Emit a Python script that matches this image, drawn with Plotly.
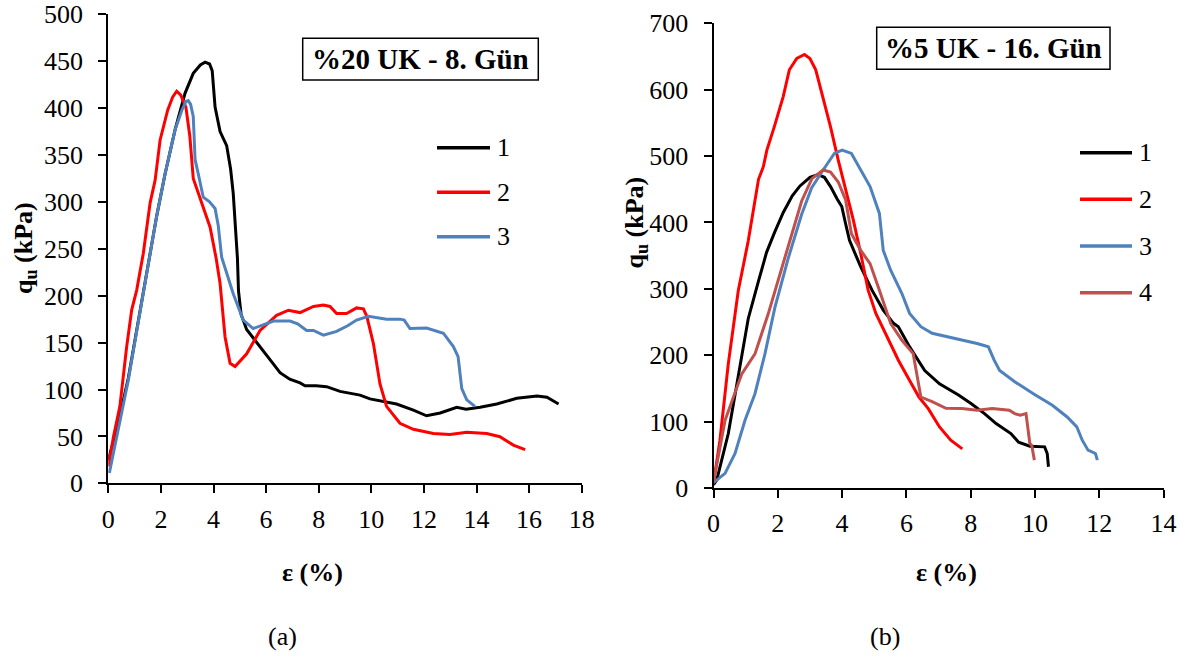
import plotly.graph_objects as go

W, H = 1193, 660
FONT = "Liberation Serif, Times New Roman, serif"

# ---------------- Panel (a): %20 UK - 8. Gün ----------------
a_x1 = [0, 0.3, 0.76, 1.14, 1.52, 1.84, 2.16, 2.54, 2.92, 3.23, 3.5, 3.68, 3.85, 3.95, 4.06, 4.25,
        4.5, 4.65, 4.75, 4.85, 4.91, 4.95, 5.05, 5.26, 5.6, 5.89, 6.2, 6.53, 6.9, 7.29, 7.48, 7.9,
        8.3, 8.81, 9.57, 9.95, 10.5, 10.96, 11.6, 12.1, 12.62, 13.25, 13.6, 14.14, 14.77, 15.53,
        16.3, 16.68, 17.12]
a_y1 = [25, 55, 112, 172, 235, 285, 330, 377, 416, 437, 446, 449, 447, 440, 401, 375,
        360, 335, 309, 270, 240, 205, 180, 164, 152, 142, 130, 118, 111, 107, 104, 104,
        103, 98, 94, 90, 87, 84.5, 78, 72, 75, 81, 79, 81, 84.5, 90.6,
        93, 91.7, 84.5]

a_x2 = [0, 0.2, 0.44, 0.7, 0.89, 1.08, 1.33, 1.59, 1.78, 1.97, 2.26, 2.45, 2.6, 2.75, 2.95, 3.1,
        3.23, 3.55, 3.87, 4.1, 4.25, 4.44, 4.63, 4.82, 5.26, 5.77, 6.4, 6.85, 7.29, 7.8, 8.18,
        8.43, 8.68, 9.06, 9.44, 9.7, 9.83, 10.08, 10.33, 10.58, 11.09, 11.6, 12.36, 12.99, 13.63,
        14.39, 14.89, 15.4, 15.85]
a_y2 = [18, 50, 82, 146, 185, 206, 245, 299, 323, 366, 398, 412, 418, 414, 401, 370,
        325, 298, 273, 240, 213, 156, 128, 124.5, 138, 163, 179, 184.5, 182, 188.5, 190,
        188.5, 181, 181, 187, 186, 178, 149, 106, 82, 64, 57.6, 53, 52, 54.5,
        53, 49.7, 40.8, 36]

a_x3 = [0.04, 0.32, 0.76, 1.14, 1.52, 1.84, 2.16, 2.54, 2.8, 2.95, 3.04, 3.13, 3.23, 3.3, 3.42,
        3.61, 3.85, 4.06, 4.18, 4.31, 4.75, 5.13, 5.51, 5.8, 6.28, 6.91, 7.2, 7.54, 7.8, 8.18,
        8.68, 9.1, 9.44, 9.89, 10.58, 11.09, 11.25, 11.47, 12.1, 12.74, 13.12, 13.3, 13.37,
        13.44, 13.63, 13.94]
a_y3 = [11, 50, 110, 172, 235, 285, 330, 377, 398, 407, 408, 404, 391, 345, 330,
        305, 300, 293, 275, 241, 202, 174, 165, 168, 173, 173, 170, 163, 163, 158,
        162, 168, 174, 178, 175, 175, 174, 165, 165.5, 160, 145.7, 135, 115,
        101, 89, 82]

# ---------------- Panel (b): %5 UK - 16. Gün ----------------
b_x1 = [0, 0.1, 0.46, 0.77, 1.08, 1.39, 1.65, 1.9, 2.17, 2.45, 2.69, 3.0, 3.25, 3.45, 3.64, 3.85,
        3.99, 4.1, 4.23, 4.58, 4.93, 5.28, 5.6, 5.75, 6.1, 6.57, 7.03, 7.62, 8.02, 8.43, 8.79,
        9.25, 9.49, 9.84, 10.3, 10.38, 10.42]
b_y1 = [5, 12, 82, 167, 255, 310, 355, 385, 415, 440, 455, 468, 472, 468, 454, 435,
        424, 400, 373, 333, 298, 268, 248, 243, 212.6, 177, 157, 140, 127, 112, 97,
        82, 69, 63, 62, 52, 32]

b_x2 = [0, 0.2, 0.46, 0.77, 1.08, 1.25, 1.4, 1.55, 1.66, 1.89, 2.17, 2.36, 2.59, 2.83, 3.0, 3.18,
        3.41, 3.64, 3.88, 4.11, 4.35, 4.58, 4.81, 5.05, 5.4, 5.75, 6.1, 6.39, 6.68, 7.03, 7.38, 7.74]
b_y2 = [7, 72, 187, 297, 372, 420, 465, 484, 509, 544, 590, 630, 647, 653, 647, 630,
        589, 544, 494, 449, 403.5, 353, 298, 263, 227.6, 192.5, 162, 137, 119.6, 92, 72, 59]

b_x3 = [0, 0.36, 0.67, 0.98, 1.29, 1.6, 1.91, 2.33, 2.74, 3.05, 3.41, 3.76, 4.0, 4.29, 4.58, 4.87,
        5.16, 5.28, 5.51, 5.86, 6.1, 6.45, 6.8, 7.27, 7.73, 8.2, 8.55, 8.73, 8.9, 9.37, 9.95,
        10.54, 11.0, 11.3, 11.47, 11.65, 11.88, 11.94]
b_y3 = [8, 22, 52, 102, 142, 202, 272, 347, 412, 452, 479, 504, 509, 504, 479, 454,
        413.6, 358, 328, 293, 263, 243, 233, 228, 222.6, 217.6, 212.6, 192.5, 177, 160, 142,
        124.6, 107, 92, 72, 57, 52, 42]

b_x4 = [0, 0.36, 0.88, 1.29, 1.7, 2.22, 2.74, 3.06, 3.41, 3.64, 3.88, 4.11, 4.29, 4.58, 4.87,
        5.16, 5.51, 5.86, 6.21, 6.45, 6.8, 7.23, 7.73, 8.2, 8.67, 9.2, 9.37, 9.54, 9.72, 9.84,
        9.9, 9.98]
b_y4 = [9, 102, 172, 202, 262, 347, 432, 466, 479, 476, 461, 434, 383, 358, 338,
        298, 248, 222.6, 202.5, 137, 130, 120, 119.6, 117, 119.6, 117, 112, 109.5, 112, 67,
        64, 42]

series_names = ["1", "2", "3", "4"]
colors = ["#000000", "#FF0000", "#4F81BD", "#C0504D"]
title_a = "%20 UK - 8. Gün"
title_b = "%5 UK - 16. Gün"


def px(x):
    return x / W


def py(y):
    return 1 - y / H


fig = go.Figure()

panel_a = [(a_x1, a_y1), (a_x2, a_y2), (a_x3, a_y3)]
panel_b = [(b_x1, b_y1), (b_x2, b_y2), (b_x3, b_y3), (b_x4, b_y4)]

for i, (xs, ys) in enumerate(panel_a):
    fig.add_trace(go.Scatter(x=xs, y=ys, mode="lines", name=series_names[i],
                             line=dict(color=colors[i], width=3), xaxis="x", yaxis="y",
                             showlegend=False, hoverinfo="skip"))
for i, (xs, ys) in enumerate(panel_b):
    fig.add_trace(go.Scatter(x=xs, y=ys, mode="lines", name=series_names[i],
                             line=dict(color=colors[i], width=3), xaxis="x2", yaxis="y2",
                             showlegend=False, hoverinfo="skip"))

tickfont = dict(family=FONT, size=26, color="black")
axis_common = dict(showgrid=False, zeroline=False, showline=True, linecolor="black",
                   linewidth=2, ticks="outside", ticklen=8, tickwidth=2, tickcolor="black",
                   tickfont=tickfont, automargin=False)

fig.update_layout(
    template="none",
    width=W, height=H,
    margin=dict(l=0, r=0, t=0, b=0, pad=0, autoexpand=False),
    paper_bgcolor="white", plot_bgcolor="white",
    font=dict(family=FONT, color="black"),
    showlegend=False,
    xaxis=dict(domain=[px(108.3), px(581.7)], range=[0, 18], dtick=2, anchor="y",
               ticklabelstandoff=3, **axis_common),
    yaxis=dict(domain=[py(483.3), py(14.3)], range=[0, 500], dtick=50, anchor="x",
               ticklabelstandoff=10, **axis_common),
    xaxis2=dict(domain=[px(713.5), px(1163.6)], range=[0, 14], dtick=2, anchor="y2",
                ticklabelstandoff=3, **axis_common),
    yaxis2=dict(domain=[py(488), py(23.3)], range=[0, 700], dtick=100, anchor="x2",
                ticklabelstandoff=10, **axis_common),
)

shapes = []
annotations = []

# title boxes
for (x0, x1, y0, y1, txt) in [(302.7, 538.3, 38.3, 80, title_a),
                              (876.7, 1110, 27.3, 69.3, title_b)]:
    shapes.append(dict(type="rect", xref="paper", yref="paper", x0=px(x0), x1=px(x1),
                       y0=py(y1), y1=py(y0), line=dict(color="black", width=1.5),
                       fillcolor="white", layer="above"))
    annotations.append(dict(text="<b>%s</b>" % txt, x=px((x0 + x1) / 2), y=py((y0 + y1) / 2),
                            xref="paper", yref="paper", showarrow=False,
                            xanchor="center", yanchor="middle",
                            font=dict(family=FONT, size=29, color="black")))

# legends
leg_a = dict(x0=437, x1=490, tx=495, ys=[147.7, 192.3, 236.7])
leg_b = dict(x0=1080, x1=1132, tx=1137, ys=[152.7, 199.3, 246, 292.7])
for leg in (leg_a, leg_b):
    for i, yy in enumerate(leg["ys"]):
        shapes.append(dict(type="line", xref="paper", yref="paper", x0=px(leg["x0"]),
                           x1=px(leg["x1"]), y0=py(yy), y1=py(yy),
                           line=dict(color=colors[i], width=3.5)))
        annotations.append(dict(text=series_names[i], x=px(leg["tx"]), y=py(yy),
                                xref="paper", yref="paper", showarrow=False,
                                xanchor="left", yanchor="middle",
                                font=dict(family=FONT, size=26, color="black")))

# axis titles
for (cx, cy) in [(25, 248), (635, 222.5)]:
    annotations.append(dict(text="<b>q<sub>u</sub> (kPa)</b>", x=px(cx), y=py(cy),
                            xref="paper", yref="paper", showarrow=False, textangle=-90,
                            xanchor="center", yanchor="middle",
                            font=dict(family=FONT, size=26, color="black")))
for (cx, cy) in [(312, 572), (946, 572)]:
    annotations.append(dict(text="<b>ε (%)</b>", x=px(cx), y=py(cy),
                            xref="paper", yref="paper", showarrow=False,
                            xanchor="center", yanchor="middle",
                            font=dict(family=FONT, size=26, color="black")))
for (cx, cy, t) in [(282, 636, "(a)"), (884.5, 636, "(b)")]:
    annotations.append(dict(text=t, x=px(cx), y=py(cy), xref="paper", yref="paper",
                            showarrow=False, xanchor="center", yanchor="middle",
                            font=dict(family=FONT, size=26, color="black")))

fig.update_layout(shapes=shapes, annotations=annotations)
fig.write_html("out.html")
